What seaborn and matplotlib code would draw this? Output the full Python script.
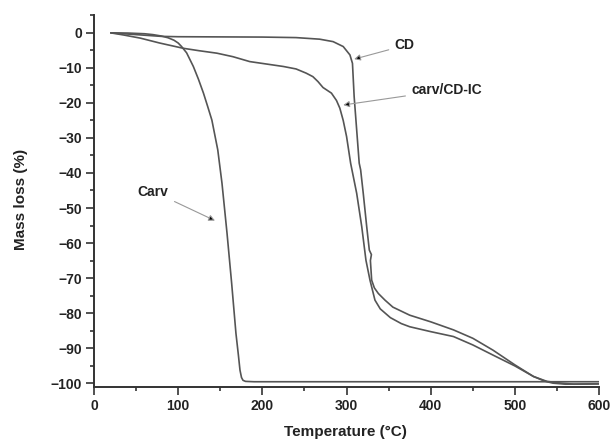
import numpy as np
import pandas as pd
import matplotlib
matplotlib.use("Agg")
import matplotlib.pyplot as plt
import seaborn as sns
from matplotlib.ticker import MultipleLocator

# ---- data ----
carv_T = [20, 40, 60, 70, 80, 88, 95, 100, 104, 110, 118, 124, 130, 135, 140, 147, 152, 158,
          163.5, 168.6, 171.5, 173.4, 175.2, 177, 180, 190, 300, 400, 500, 600]
carv_M = [0, -0.05, -0.25, -0.5, -0.9, -1.4, -2.1, -2.9, -3.9, -5.7, -9.6, -13.2, -17.2, -21.0, -24.9, -33.4, -42.9, -57.2,
          -71.5, -85.8, -92.0, -96.3, -98.4, -99.2, -99.5, -99.6, -99.6, -99.6, -99.6, -99.6]

cd_T = [20, 50, 80, 100, 150, 200, 240, 268, 284, 296, 304, 307, 309, 312, 315, 316.7, 319.8, 323.9,
        327, 329.5, 328.3, 329.8, 333, 337.7, 345.6, 355, 375, 400, 427, 450, 474, 500, 522, 538, 555, 570, 600]
cd_M = [0, -0.5, -1.0, -1.1, -1.15, -1.2, -1.35, -1.8, -2.5, -3.9, -6.3, -8.7, -18.2, -27.7, -37.2, -39.1, -45.8, -55.3,
        -62.0, -63.3, -65.0, -70.6, -72.8, -74.4, -76.3, -78.3, -80.6, -82.5, -84.8, -87.2, -90.6, -94.8, -98.1, -99.5, -100.0, -100.3, -100.2]

ic_T = [20, 35, 55, 78, 106, 125, 146, 165, 185, 205, 225, 240, 252, 260, 266, 272, 277, 282, 288, 292, 296, 300,
        304.8, 312, 318, 323, 327.8, 333.7, 340, 352, 365, 375, 400, 427, 450, 474, 500, 522, 535, 545, 560, 600]
ic_M = [0, -0.6, -1.5, -2.9, -4.4, -5.1, -5.8, -6.8, -8.2, -8.9, -9.6, -10.3, -11.5, -12.5, -13.9, -15.6, -16.4, -17.2, -19.3, -21.5, -25.0, -29.6,
        -37.2, -45.8, -55.3, -64.9, -70.6, -76.3, -78.8, -81.3, -83.0, -83.9, -85.3, -86.7, -89.1, -92.0, -95.1, -98.1, -99.4, -100.0, -100.3, -100.2]

series_names = ["Carv", "CD", "carv/CD-IC"]

df = pd.concat([
    pd.DataFrame({"T": carv_T, "M": carv_M, "s": series_names[0]}),
    pd.DataFrame({"T": cd_T, "M": cd_M, "s": series_names[1]}),
    pd.DataFrame({"T": ic_T, "M": ic_M, "s": series_names[2]}),
], ignore_index=True)

sns.set_style("ticks")
plt.rcParams["font.family"] = ["Liberation Sans", "DejaVu Sans"]

fig = plt.figure(figsize=(6.12, 4.44), dpi=100)
ax = fig.add_axes([0.1536, 0.1284, 0.8254, 0.8378])

line_color = "#555555"
sns.lineplot(data=df, x="T", y="M", units="s", estimator=None, sort=False,
             color=line_color, linewidth=1.2, ax=ax, legend=False)

ax.set_xlim(0, 600)
ax.set_ylim(-101.1, 5.1)
ax.xaxis.set_major_locator(MultipleLocator(100))
ax.xaxis.set_minor_locator(MultipleLocator(50))
ax.yaxis.set_major_locator(MultipleLocator(10))
ax.yaxis.set_minor_locator(MultipleLocator(5))
ax.set_yticks(np.arange(-100, 1, 10))

sns.despine(ax=ax)
for sp in ["left", "bottom"]:
    ax.spines[sp].set_linewidth(1.4)
    ax.spines[sp].set_color("#333333")

ax.tick_params(which="major", direction="out", length=5.5, width=1.2, color="#333333",
               labelsize=10, pad=3)
ax.tick_params(which="minor", direction="out", length=3, width=1.2, color="#333333")
for lab in ax.get_xticklabels() + ax.get_yticklabels():
    lab.set_fontweight("bold")
    lab.set_color("#222222")

ax.set_xlabel("Temperature (°C)", fontsize=11, fontweight="bold", color="#222222")
ax.set_ylabel("Mass loss (%)", fontsize=11, fontweight="bold", color="#222222")
ax.xaxis.set_label_coords(0.497, -0.102)
ax.yaxis.set_label_coords(-0.131, 0.503)

arrow_kw = dict(arrowstyle="-|>", edgecolor="#999999", facecolor="black",
                lw=0.8, mutation_scale=9, shrinkA=2, shrinkB=0)
txt_kw = dict(fontsize=10, fontweight="bold", color="#222222", ha="center", va="center")

ax.annotate("CD", xy=(309, -7.5), xytext=(369, -3.6), arrowprops=arrow_kw, **txt_kw)
ax.annotate("carv/CD-IC", xy=(296, -20.6), xytext=(419, -16.3), arrowprops=arrow_kw, **txt_kw)
ax.annotate("Carv", xy=(143.7, -53.6), xytext=(70.4, -45.3), arrowprops=arrow_kw, **txt_kw)

fig.savefig("out.png", dpi=100)
